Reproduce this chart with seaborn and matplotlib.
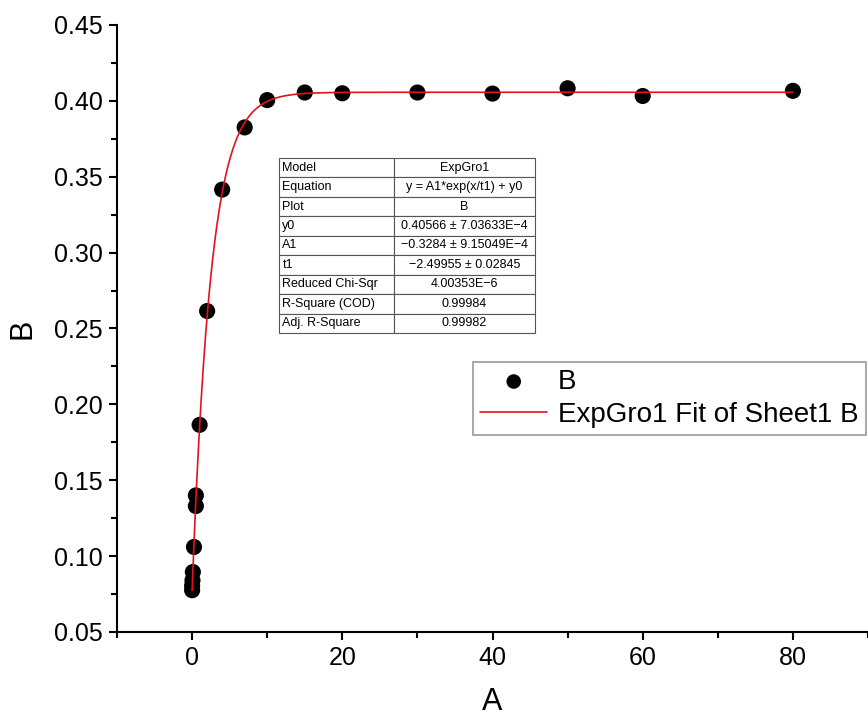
import numpy as np
import pandas as pd
import matplotlib
matplotlib.use("Agg")
import matplotlib.pyplot as plt
from matplotlib.ticker import MultipleLocator, FormatStrFormatter
import seaborn as sns

# Measured data (column A vs column B)
a_values = [0, 0, 0.05, 0.1, 0.25, 0.5, 0.5, 1, 2, 4, 7, 10, 15, 20, 30, 40, 50, 60, 80]
b_values = [0.0775, 0.0805, 0.0840, 0.0895, 0.1060, 0.1330, 0.1400, 0.1865, 0.2615,
            0.3415, 0.3825, 0.4005, 0.4055, 0.4050, 0.4055, 0.4048, 0.4083, 0.4032, 0.4066]

# ExpGro1 fit parameters
y0 = 0.40566
A1 = -0.3284
t1 = -2.49955

table_rows = [
    ["Model", "ExpGro1"],
    ["Equation", "y = A1*exp(x/t1) + y0"],
    ["Plot", "B"],
    ["y0", "0.40566 \u00b1 7.03633E\u22124"],
    ["A1", "\u22120.3284 \u00b1 9.15049E\u22124"],
    ["t1", "\u22122.49955 \u00b1 0.02845"],
    ["Reduced Chi-Sqr", "4.00353E\u22126"],
    ["R-Square (COD)", "0.99984"],
    ["Adj. R-Square", "0.99982"],
]

sns.set_theme(style="ticks")
plt.rcParams["font.family"] = ["Liberation Sans", "DejaVu Sans"]
plt.rcParams["text.color"] = "black"
plt.rcParams["axes.labelcolor"] = "black"

df = pd.DataFrame({"A": a_values, "B": b_values})
x_fit = np.linspace(min(a_values), max(a_values), 800)
fit_df = pd.DataFrame({"A": x_fit, "B": A1 * np.exp(x_fit / t1) + y0})

fig = plt.figure(figsize=(8.68, 7.22), dpi=100)
ax = fig.add_axes([0.1348, 0.1247, 0.8652, 0.8407])

sns.lineplot(data=fit_df, x="A", y="B", ax=ax, color="#e3121b", linewidth=1.2,
             label="ExpGro1 Fit of Sheet1 B", zorder=3)
sns.scatterplot(data=df, x="A", y="B", ax=ax, color="black", s=135, edgecolor="none",
                label="B", zorder=2)

ax.set_xlim(-10, 90)
ax.set_ylim(0.05, 0.45)
ax.xaxis.set_major_locator(MultipleLocator(20))
ax.xaxis.set_minor_locator(MultipleLocator(10))
ax.yaxis.set_major_locator(MultipleLocator(0.05))
ax.yaxis.set_minor_locator(MultipleLocator(0.025))
ax.yaxis.set_major_formatter(FormatStrFormatter("%.2f"))

for side in ("top", "right"):
    ax.spines[side].set_visible(False)
for side in ("left", "bottom"):
    ax.spines[side].set_linewidth(1.5)
    ax.spines[side].set_color("black")

ax.tick_params(axis="both", which="major", direction="out", length=6, width=1.5,
               labelsize=18, colors="black", pad=4)
ax.tick_params(axis="both", which="minor", direction="out", length=4, width=1.5,
               colors="black")
ax.set_xlabel("A", fontsize=22, labelpad=12, color="black")
ax.set_ylabel("B", fontsize=22, labelpad=12, color="black")

# Legend: scatter first, then the fit line
handles, labels = ax.get_legend_handles_labels()
order = [labels.index("B"), labels.index("ExpGro1 Fit of Sheet1 B")]
leg = ax.legend([handles[i] for i in order], [labels[i] for i in order],
                loc="upper right", bbox_to_anchor=(0.997, 0.445), fontsize=20,
                frameon=True, fancybox=False, borderaxespad=0, handlelength=2.4,
                handletextpad=0.4, borderpad=0.25, labelspacing=0.25, markerscale=0.9,
                labelcolor="black")
leg.get_frame().set_edgecolor("#808080")
leg.get_frame().set_linewidth(1.2)

# Fit results table
tbl = ax.table(cellText=table_rows, colWidths=[0.449, 0.551],
               bbox=[0.2157, 0.4926, 0.3409, 0.2883], zorder=5)
tbl.auto_set_font_size(False)
for (r, c), cell in tbl.get_celld().items():
    cell.set_edgecolor("#555555")
    cell.set_linewidth(0.8)
    cell.set_facecolor("white")
    cell.get_text().set_fontsize(9)
    cell.get_text().set_color("black")
    if c == 0:
        cell.get_text().set_ha("left")
        cell.PAD = 0.03
    else:
        cell.get_text().set_ha("center")

fig.savefig("out.png", dpi=100)
